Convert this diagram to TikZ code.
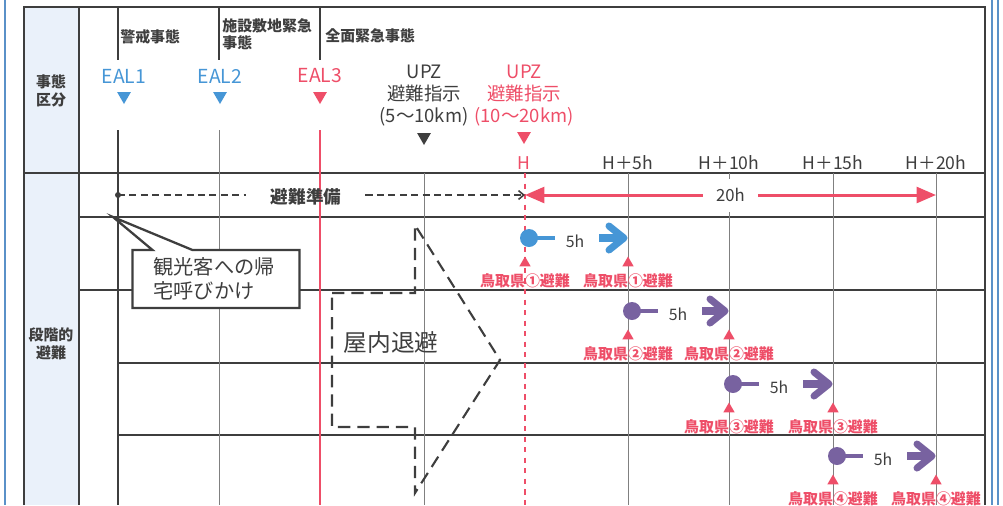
\documentclass[tikz,border=0pt]{standalone}
\usepackage{fontspec}
\setmainfont{Noto Sans CJK JP}
\usetikzlibrary{positioning,shapes.geometric,shapes.callouts,arrows.meta}
\definecolor{ealblue}{RGB}{70,150,214}
\definecolor{ealred}{RGB}{238,78,104}
\definecolor{evpurple}{RGB}{120,98,160}
\definecolor{framegray}{RGB}{62,62,62}
\definecolor{colfill}{RGB}{234,241,250}
\definecolor{edgeblue}{RGB}{90,145,200}

\begin{document}
\begin{tikzpicture}[x=0.02cm,y=-0.02cm,
  gridline/.style={framegray,line width=0.7pt},
  thinline/.style={gray,line width=0.5pt},
  hd/.style={font=\bfseries\fontsize{8.5}{9.5}\selectfont,text=framegray,align=left,inner sep=0pt},
  sidehd/.style={font=\bfseries\fontsize{8.5}{10}\selectfont,text=framegray,align=center,inner sep=0pt},
  eal/.style={font=\fontsize{11}{12}\selectfont,inner sep=0pt},
  upz/.style={font=\fontsize{10.5}{12.5}\selectfont,align=center,inner sep=0pt},
  hour/.style={font=\fontsize{10}{12}\selectfont,text=framegray,inner sep=0pt},
  downtri/.style={regular polygon,regular polygon sides=3,shape border rotate=180,inner sep=0pt,minimum size=0.32cm},
  uptri/.style={regular polygon,regular polygon sides=3,inner sep=0pt,minimum size=0.26cm,fill=ealred},
  ken/.style={font=\bfseries\fontsize{8.5}{9}\selectfont,text=ealred,inner sep=0pt},
  small/.style={font=\fontsize{9}{10}\selectfont,text=framegray,inner sep=0pt}
  ]
	\useasboundingbox (0,0) rectangle (1003,505);
	% binding lines
	\draw[edgeblue,line width=1.6pt] (5,0) -- (5,505);
	\draw[edgeblue,line width=1.4pt] (992,0) -- (992,505) (998,0) -- (998,505);
	% table frame
	\fill[colfill] (24,7) rectangle (79,505);
	\draw[gridline,line width=1pt] (24,505) -- (24,7) -- (985,7) -- (985,505);
	\draw[gridline] (79,7) -- (79,505);
	\draw[gridline] (24,173) -- (985,173);
	\draw[gridline] (79,217) -- (985,217);
	\draw[gridline] (79,290) -- (985,290);
	\draw[gridline] (118,363) -- (985,363);
	\draw[gridline] (118,435) -- (985,435);
	% columns
	\draw[gridline] (118,7) -- (118,60) (118,130) -- (118,505);
	\draw[gridline] (219,7) -- (219,60);
	\draw[thinline] (219,130) -- (219,505);
	\draw[gridline] (320,7) -- (320,60);
	\draw[ealred,line width=1pt] (320,130) -- (320,505);
	\draw[thinline] (424,173) -- (424,505);
	\draw[ealred,dashed,line width=0.7pt] (525,173) -- (525,505);
	\foreach \x in {628,833,936}
		\draw[thinline] (\x,173) -- (\x,505);
	\draw[thinline] (729,173) -- (729,179) (729,212) -- (729,505);

	% header
	\node[hd,anchor=west] (keikai) at (120,37) {警戒事態};
	\node[hd,anchor=west] (shisetsu) at (222,34) {施設敷地緊急\\事態};
	\node[hd,anchor=west] (zenmen) at (325,36) {全面緊急事態};
	\node[sidehd] (kubun) at (51,91) {事態\\区分};
	\node[sidehd] (dankai) at (51,344) {段階的\\避難};
	\foreach \x/\t/\c in {124/EAL1/ealblue,220/EAL2/ealblue,320/EAL3/ealred}{
		\node[eal,text=\c] (lab\t) at (\x,76) {\t};
		\node[downtri,fill=\c] (tri\t) at (\x,96) {};
	}
	\node[upz,text=framegray] (upzA) at (424,96) {UPZ\\避難指示\\(5〜10km)};
	\node[downtri,fill=framegray] (triA) at (424,137) {};
	\node[upz,text=ealred] (upzB) at (524,96) {UPZ\\避難指示\\(10〜20km)};
	\node[downtri,fill=ealred] (triB) at (524,136) {};
	\node[hour,text=ealred] (hH) at (524,163) {H};
	\foreach \x/\t in {628/5,729/10,833/15,936/20}
		\node[hour] (h\t) at (\x,163) {H＋\t h};

	% preparation row
	\coordinate (prepL) at (118,195);
	\coordinate (prepR) at (525,195);
	\coordinate (spanR) at (936,195);
	\fill[framegray] (prepL) circle (3);
	\node[font=\bfseries\fontsize{10}{11}\selectfont,text=framegray,inner sep=0pt] (junbi) at (306,197) {避難準備};
	\draw[framegray,line width=0.9pt,dash pattern=on 4pt off 2.5pt,shorten >=0.5cm] (prepL) -- (junbi.west |- prepL);
	\draw[framegray,line width=0.9pt,dash pattern=on 4pt off 2.5pt,shorten <=0.48cm,-{Straight Barb[length=3pt,width=5pt]}] (junbi.east |- prepL) -- (prepR);
	\draw[ealred,line width=1.7pt,{Triangle[length=11pt,width=9pt]}-{Triangle[length=11pt,width=9pt]}] (prepR) -- (spanR)
		node[midway,fill=white,inner xsep=0.26cm,inner ysep=1pt,text=framegray,font=\fontsize{9.5}{10}\selectfont] (span) {20h};

	% callout
	\node[rectangle callout,draw=framegray,line width=1.3pt,fill=white,text=framegray,
		text width=2.5cm,inner xsep=0.42cm,minimum height=1.16cm,align=left,
		font=\fontsize{11.5}{13.5}\selectfont,
		callout absolute pointer={(113,217)},callout pointer width=0.8cm] (kikan) at (216,279) {観光客への帰\\宅呼びかけ};

	% sheltering
	\draw[framegray,line width=1.2pt,dash pattern=on 7pt off 4pt] (332,293) -- (415,293) -- (415,225) -- (500,360) -- (415,493) -- (415,427) -- (332,427) -- cycle;
	\node[font=\fontsize{13.5}{14}\selectfont,text=framegray,inner sep=0pt] (okunai) at (391,342) {屋内退避};

	% staged evacuation
	\foreach \a/\b/\t/\c/\m [count=\i] in {525/628/217/ealblue/①,628/729/290/evpurple/②,729/833/363/evpurple/③,833/936/435/evpurple/④}{
		\fill[\c] (\a+4,\t+21) circle (9);
		\draw[\c,line width=2.8pt] (\a+4,\t+21) -- (\a+30,\t+21);
		\node[small] (dur\i) at (\a+50,\t+24) {5h};
		\draw[\c,line width=4.5pt] (\a+74,\t+21) -- (\b-10,\t+21);
		\draw[\c,line width=4pt,line cap=round,line join=round] (\b-19,\t+9) -- (\b-4,\t+21) -- (\b-19,\t+33);
		\node[uptri] (tA\i) at (\a,\t+46) {};
		\node[uptri] (tB\i) at (\b,\t+46) {};
		\node[ken] (kA\i) at (\a,\t+64) {鳥取県\m 避難};
		\node[ken] (kB\i) at (\b,\t+64) {鳥取県\m 避難};
	}
\end{tikzpicture}
\end{document}
